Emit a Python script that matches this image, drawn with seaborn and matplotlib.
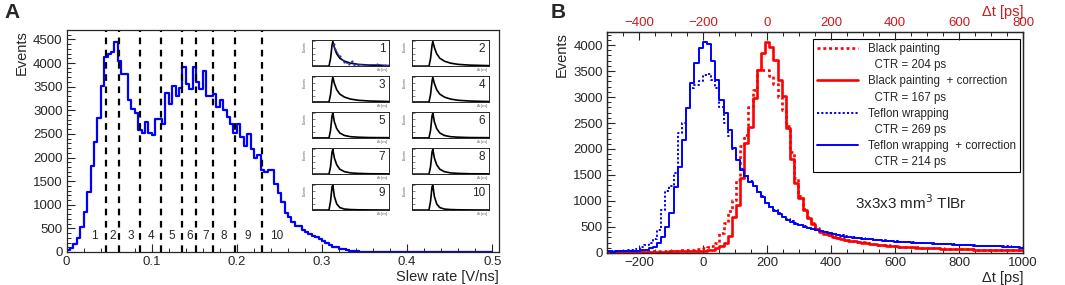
import numpy as np
import pandas as pd
import seaborn as sns
import matplotlib.pyplot as plt
from matplotlib.lines import Line2D
from matplotlib.ticker import MultipleLocator, FuncFormatter

#%% data
# panel A: slew rate histogram, 125 bins of 0.004 V/ns from 0 to 0.5
slew_edges = np.linspace(0, 0.5, 126)
slew_counts = [40, 90, 160, 300, 520, 850, 1270, 1820, 2330, 2830, 3510, 4130, 4200, 4230, 4440,
               4035, 3775, 3775, 3213, 3037, 2953, 2580, 2524, 2742, 2524, 2475, 2812, 2812, 2700, 3374,
               3128, 3508, 3297, 3480, 3916, 3564, 3459, 3916, 3600, 3459, 3831, 3297, 3297, 3353, 3072,
               3213, 3016, 2861, 2707, 2510, 2700, 2440, 2250, 2496, 2172, 1982, 2053, 1736, 1700, 1740,
               1740, 1450, 1250, 1060, 820, 750, 640, 560, 540, 465, 420, 390, 340, 320, 270,
               230, 190, 150, 115, 100, 70, 55, 45, 30, 20, 15, 10, 8, 6, 5,
               4, 3, 3, 2, 2, 2, 1, 1, 2, 1, 1, 0, 1, 1, 0, 0, 1, 0, 0, 1, 0, 0, 0, 1, 0,
               0, 0, 0, 0, 0, 0, 0, 0, 0, 0]
cut_positions = [0.046, 0.062, 0.086, 0.111, 0.136, 0.152, 0.1725, 0.1975, 0.229]
slice_labels = ['1', '2', '3', '4', '5', '6', '7', '8', '9', '10']
slice_label_x = [0.0325, 0.054, 0.0757, 0.099, 0.124, 0.144, 0.163, 0.185, 0.213, 0.247]
slice_label_y = 330

# insets: normalised time axis and pulse shapes (wide / medium / narrow)
inset_t = [0, 0.22, 0.24, 0.26, 0.27, 0.29, 0.32, 0.36, 0.42, 0.5, 0.6, 0.75, 1.0]
shape_wide = [0, 0, 0.3, 0.85, 1.0, 0.75, 0.5, 0.32, 0.2, 0.12, 0.07, 0.04, 0.02]
shape_mid = [0, 0, 0.3, 0.9, 1.0, 0.65, 0.38, 0.2, 0.1, 0.05, 0.03, 0.015, 0.01]
shape_narrow = [0, 0, 0.35, 0.95, 1.0, 0.55, 0.25, 0.1, 0.04, 0.02, 0.01, 0.005, 0.0]
inset_shapes = [shape_wide] * 4 + [shape_mid] * 4 + [shape_narrow] * 2
inset1_blue_t = [0.28, 0.3, 0.36, 0.42, 0.48, 0.52, 0.55, 0.6, 0.7, 0.85, 0.95, 1.0]
inset1_blue_y = [0.9, 0.7, 0.4, 0.15, 0.08, 0.2, 0.05, 0.06, 0.04, 0.07, 0.03, 0.03]

# panel B: delta t histograms, 100 bins of 13 ps from -300 to 1000 ps
dt_edges = np.linspace(-300, 1000, 101)
black_raw = [25, 25, 28, 28, 30, 30, 30, 32, 32, 33,
             35, 35, 36, 38, 40, 42, 45, 48, 52, 58,
             62, 70, 80, 90, 110, 130, 190, 380, 570, 800,
             1020, 1400, 2050, 2270, 2810, 3130, 3520, 3520, 3520, 3400,
             3250, 3000, 2750, 2450, 1950, 1450, 1100, 850, 690, 580,
             490, 430, 385, 350, 315, 292, 272, 258, 245, 232,
             218, 207, 196, 184, 171, 161, 153, 145, 137, 130,
             124, 119, 114, 110, 106, 103, 100, 96, 93, 91,
             88, 85, 83, 80, 78, 75, 73, 71, 69, 67,
             65, 64, 62, 60, 59, 58, 57, 55, 54, 52]
black_corr = [20, 20, 22, 22, 24, 24, 25, 25, 25, 25,
              26, 26, 27, 28, 28, 30, 30, 32, 33, 35,
              38, 40, 42, 45, 55, 60, 90, 140, 200, 320,
              700, 930, 1440, 2110, 2430, 2980, 3520, 3840, 4060, 3970,
              3710, 3330, 3010, 2400, 1800, 1350, 1050, 820, 680, 560,
              470, 410, 370, 340, 300, 280, 262, 250, 238, 225,
              210, 200, 190, 178, 165, 155, 148, 140, 132, 125,
              120, 115, 110, 106, 102, 100, 97, 93, 90, 88,
              85, 82, 80, 78, 75, 72, 70, 68, 66, 65,
              63, 62, 60, 58, 57, 56, 55, 53, 52, 50]
teflon_raw = [35, 35, 40, 38, 45, 50, 55, 70, 120, 150,
              200, 260, 450, 830, 1200, 1280, 1540, 2300, 2500, 2790,
              3170, 3230, 3300, 3430, 3450, 3330, 3170, 2800, 2500, 2250,
              2000, 1780, 1610, 1490, 1390, 1290, 1180, 1090, 970, 890,
              820, 760, 700, 650, 610, 575, 540, 515, 490, 468,
              445, 425, 402, 383, 368, 352, 338, 322, 312, 302,
              292, 285, 276, 266, 256, 248, 241, 234, 228, 223,
              219, 215, 210, 205, 200, 195, 191, 188, 184, 180,
              177, 174, 170, 167, 162, 157, 154, 151, 147, 144,
              142, 139, 136, 133, 130, 128, 125, 121, 116, 110]
teflon_corr = [30, 28, 32, 35, 33, 38, 40, 45, 50, 60,
               90, 120, 190, 314, 506, 763, 1276, 1660, 2180, 2780,
               3260, 3650, 3940, 4050, 4020, 3700, 3330, 2940, 2690, 2370,
               2010, 1790, 1600, 1480, 1370, 1280, 1170, 1080, 960, 880,
               810, 750, 690, 640, 600, 565, 530, 505, 480, 460,
               435, 415, 395, 375, 360, 345, 330, 315, 305, 295,
               285, 278, 270, 260, 250, 242, 235, 228, 222, 218,
               214, 210, 205, 200, 195, 190, 186, 183, 180, 175,
               172, 170, 166, 163, 158, 152, 150, 147, 143, 140,
               138, 135, 132, 130, 127, 124, 122, 118, 112, 105]
legend_labels = ['Black painting', '  CTR = 204 ps',
                 'Black painting  + correction', '  CTR = 167 ps',
                 'Teflon wrapping', '  CTR = 269 ps',
                 'Teflon wrapping  + correction', '  CTR = 214 ps']
top_offset = 200  # upper axis = lower axis - 200 ps

#%% style
sns.set_style('ticks')
plt.rcParams['font.family'] = ['Liberation Sans', 'DejaVu Sans']
plt.rcParams['xtick.direction'] = 'in'
plt.rcParams['ytick.direction'] = 'in'
plt.rcParams['axes.linewidth'] = 0.9

BLUE = '#0000ff'
RED = '#ff0000'
TOPRED = '#cc1a1a'
TICK_FS = 9.5
TITLE_FS = 10.5

fig = plt.figure(figsize=(10.65, 2.85), dpi=100)
axA = fig.add_axes([0.0626, 0.1158, 0.406, 0.779])
axB = fig.add_axes([0.570, 0.1123, 0.3906, 0.7754])


def root_ticks(ax, xmaj, xmin, ymaj, ymin):
    ax.xaxis.set_major_locator(MultipleLocator(xmaj))
    ax.xaxis.set_minor_locator(MultipleLocator(xmin))
    ax.yaxis.set_major_locator(MultipleLocator(ymaj))
    ax.yaxis.set_minor_locator(MultipleLocator(ymin))
    ax.tick_params(which='major', length=6, width=0.8, labelsize=TICK_FS, pad=3,
                   top=False, right=False)
    ax.tick_params(which='minor', length=3, width=0.7, top=False, right=False)


def step_hist(ax, edges, counts, **kws):
    df = pd.DataFrame({'x': (edges[:-1] + edges[1:]) / 2, 'w': counts})
    sns.histplot(data=df, x='x', weights='w', bins=list(edges), element='step',
                 fill=False, ax=ax, **kws)


#%% panel A
step_hist(axA, slew_edges, slew_counts, color=BLUE, linewidth=1.6)
for xc in cut_positions:
    axA.axvline(xc, ymin=0, ymax=1, color='black', linestyle=(0, (3, 2.5)), linewidth=1.6)
for lab, xl in zip(slice_labels, slice_label_x):
    axA.text(xl, slice_label_y, lab, ha='center', va='center', fontsize=8.5)
axA.set_xlim(0, 0.508)
axA.set_ylim(0, 4700)
root_ticks(axA, 0.1, 0.02, 500, 100)
axA.xaxis.set_major_formatter(FuncFormatter(lambda v, p: '0' if abs(v) < 1e-9 else f'{v:g}'))
axA.set_xlabel('Slew rate [V/ns]', loc='right', fontsize=TITLE_FS, labelpad=1)
axA.set_ylabel('Events', loc='top', fontsize=TITLE_FS, labelpad=3)
fig.text(0.004, 0.99, 'A', fontsize=15, fontweight='bold', va='top', ha='left')

# small slice panels
col_left = [0.293, 0.3869]
row_bottom = [0.768, 0.642, 0.516, 0.389, 0.263]
for i, shape in enumerate(inset_shapes):
    r, c = divmod(i, 2)
    ins = fig.add_axes([col_left[c], row_bottom[r], 0.0723, 0.0912])
    sns.lineplot(x=inset_t, y=shape, color='black', linewidth=1.2, ax=ins)
    if i == 0:
        sns.lineplot(x=inset1_blue_t, y=inset1_blue_y, color='#3030c0', linewidth=0.6,
                     marker='o', markersize=1.5, markeredgewidth=0, ax=ins)
    ins.set_xlim(0, 1)
    ins.set_ylim(0, 1.05)
    ins.set_xlabel('')
    ins.set_ylabel('')
    ins.set_xticks([])
    ins.yaxis.set_major_locator(MultipleLocator(0.25))
    ins.yaxis.set_minor_locator(MultipleLocator(0.0625))
    ins.tick_params(axis='y', which='major', length=2, width=0.4, labelleft=False)
    ins.tick_params(axis='y', which='minor', length=1, width=0.3)
    for sp in ins.spines.values():
        sp.set_linewidth(0.7)
    ins.text(0.95, 0.9, slice_labels[i], transform=ins.transAxes, ha='right', va='top', fontsize=8.5)
    ins.text(-0.1, 0.75, 'Events', transform=ins.transAxes, rotation=90, fontsize=2.5,
             ha='center', va='center', color='#555555')
    ins.text(0.97, -0.08, '\u0394t [ns]', transform=ins.transAxes, fontsize=2.5,
             ha='right', va='top', color='#555555')

#%% panel B
dotted = (0, (1.1, 1.1))
step_hist(axB, dt_edges, black_raw, color=RED, linewidth=1.9, linestyle=dotted)
step_hist(axB, dt_edges, black_corr, color=RED, linewidth=1.9)
step_hist(axB, dt_edges, teflon_raw, color=BLUE, linewidth=1.4, linestyle=dotted)
step_hist(axB, dt_edges, teflon_corr, color=BLUE, linewidth=1.4)
axB.set_xlim(-300, 1000)
axB.set_ylim(0, 4250)
root_ticks(axB, 200, 50, 500, 100)
axB.set_xlabel('\u0394t [ps]', loc='right', fontsize=TITLE_FS, labelpad=1)
axB.set_ylabel('Events', loc='top', fontsize=TITLE_FS, labelpad=3)

handles = [Line2D([], [], color=RED, linestyle=dotted, linewidth=1.9),
           Line2D([], [], color='none'),
           Line2D([], [], color=RED, linewidth=1.9),
           Line2D([], [], color='none'),
           Line2D([], [], color=BLUE, linestyle=dotted, linewidth=1.4),
           Line2D([], [], color='none'),
           Line2D([], [], color=BLUE, linewidth=1.4),
           Line2D([], [], color='none')]
leg = axB.legend(handles, legend_labels, loc='upper right', bbox_to_anchor=(0.993, 0.968),
                 frameon=True, fancybox=False, edgecolor='black', framealpha=1,
                 fontsize=8.3, handlelength=3.5, handletextpad=0.9, labelspacing=0.36,
                 borderpad=0.35, borderaxespad=0)
leg.get_frame().set_linewidth(0.8)
axB.text(0.596, 0.23, '3x3x3 mm$^3$ TlBr', transform=axB.transAxes, fontsize=11,
         ha='left', va='center')

axTop = axB.twiny()
axTop.set_xlim(axB.get_xlim()[0] - top_offset, axB.get_xlim()[1] - top_offset)
axTop.xaxis.set_major_locator(MultipleLocator(200))
axTop.xaxis.set_minor_locator(MultipleLocator(50))
axTop.tick_params(which='major', length=6, width=0.8, labelsize=TICK_FS, pad=2,
                  labelcolor=TOPRED, direction='in')
axTop.tick_params(which='minor', length=3, width=0.7, direction='in')
axTop.set_xlabel('\u0394t [ps]', loc='right', fontsize=TITLE_FS, color=TOPRED, labelpad=1)
fig.text(0.517, 0.99, 'B', fontsize=15, fontweight='bold', va='top', ha='left')

plt.savefig('out.png', dpi=100)
